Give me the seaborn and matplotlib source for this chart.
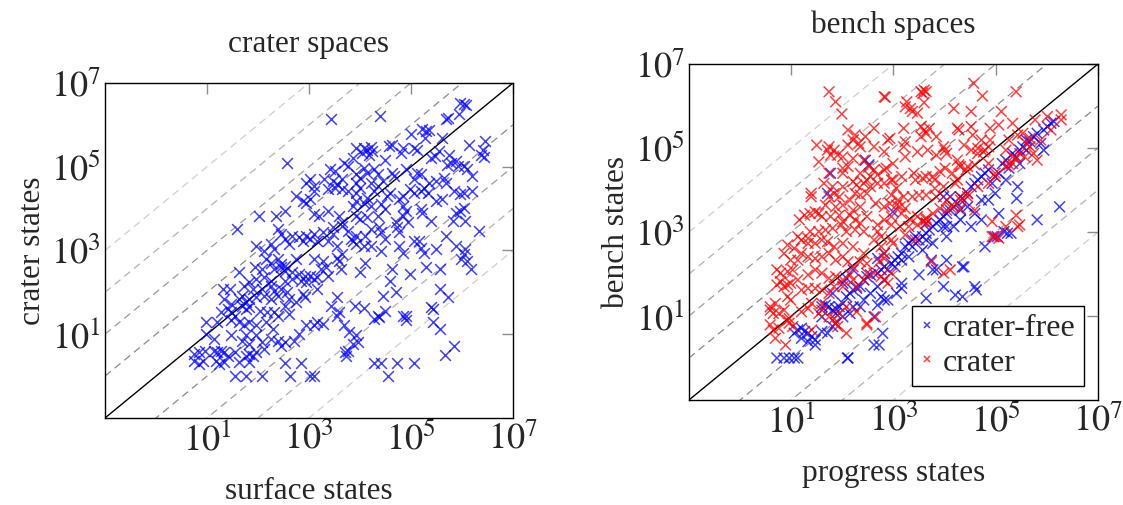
import numpy as np
import pandas as pd
import matplotlib
matplotlib.use("Agg")
import matplotlib.pyplot as plt
import seaborn as sns

sns.set_style("white")
plt.rcParams["font.family"] = ["Liberation Serif", "DejaVu Serif"]
plt.rcParams["mathtext.fontset"] = "stix"
FS = 22.5
TICK_FS = 26

# log10(surface states), log10(crater states) -- left panel
crater_space = [
    (3.44, 6.14), (4.40, 6.22), (5.96, 6.52), (6.03, 6.50), (6.08, 6.48), (5.68, 6.14), (5.73, 6.16), (5.94, 6.27),
    (5.01, 5.77), (5.22, 5.90), (5.29, 5.85), (5.36, 5.87), (5.27, 5.69), (5.61, 5.69), (6.13, 5.53), (6.46, 5.61),
    (4.07, 5.45), (4.14, 5.41), (4.21, 5.48), (4.24, 5.37), (4.17, 5.29), (3.93, 5.45), (4.03, 5.33), (4.56, 5.49),
    (4.63, 5.53), (4.84, 5.45), (4.80, 5.33), (5.05, 5.45), (5.12, 5.41), (5.40, 5.21), (5.47, 5.25), (5.54, 5.37),
    (5.75, 5.29),
    (6.41, 5.41), (6.38, 5.29), (6.43, 5.24), (4.49, 5.17), (3.86, 5.21), (3.69, 5.10), (3.76, 5.02), (3.41, 4.94),
    (3.51, 4.90), (2.57, 5.10), (5.89, 5.13), (5.78, 5.08), (6.03, 5.02), (6.10, 4.95), (5.71, 5.03), (5.92, 5.02),
    (4.91, 4.94), (5.12, 4.86), (5.19, 4.82), (4.63, 4.86), (4.66, 4.78), (4.35, 4.82), (4.28, 4.94), (4.07, 4.98),
    (4.14, 4.86), (3.93, 4.82), (4.00, 4.74), (3.02, 4.70), (3.09, 4.54), (3.30, 4.70), (3.48, 4.66), (3.55, 4.58),
    (3.65, 4.70), (6.20, 4.78), (5.50, 4.66), (5.64, 4.74), (5.69, 4.60), (5.36, 4.62), (5.05, 4.70), (4.45, 4.66),
    (4.21, 4.62), (3.93, 4.62),
    (5.26, 4.50), (5.19, 4.42), (5.33, 4.38), (4.98, 4.46), (5.05, 4.38), (4.84, 4.30), (4.59, 4.38), (4.52, 4.30),
    (4.28, 4.42), (4.35, 4.54), (4.00, 4.50), (3.93, 4.38), (3.76, 4.42), (3.65, 4.46), (3.51, 4.50), (3.37, 4.46),
    (3.09, 4.42), (2.95, 4.62), (5.85, 4.42), (6.03, 4.38), (5.96, 4.34), (6.20, 4.42), (5.50, 4.18), (5.61, 4.22),
    (2.74, 4.30), (2.88, 4.18), (2.95, 4.14), (3.02, 4.22), (4.14, 4.26), (4.07, 4.14), (4.21, 4.06), (3.93, 4.18),
    (3.86, 4.06), (4.42, 4.10), (4.84, 4.06), (4.91, 3.94), (6.03, 4.02), (5.96, 3.94), (5.89, 3.90), (5.19, 3.98),
    (5.22, 3.90), (4.77, 4.22),
    (2.01, 3.83), (2.36, 3.83), (2.53, 3.94), (3.09, 3.87), (3.20, 3.83), (3.37, 3.94), (3.58, 3.83), (3.65, 3.67),
    (3.93, 3.83), (4.00, 3.75), (4.14, 3.79), (4.35, 3.83), (4.49, 3.98), (4.84, 3.83), (4.94, 3.67), (4.70, 3.67),
    (4.73, 3.55), (4.77, 3.43), (5.40, 3.71), (5.82, 3.71), (6.06, 3.71), (5.68, 3.35), (6.34, 3.47), (1.59, 3.51),
    (2.39, 3.51), (2.46, 3.39), (2.67, 3.35), (2.81, 3.31), (2.95, 3.35), (3.09, 3.39), (3.27, 3.43), (3.48, 3.55),
    (3.48, 3.39), (3.65, 3.59), (3.76, 3.47), (3.83, 3.27), (3.93, 3.35), (4.10, 3.35), (4.21, 3.51), (4.38, 3.55),
    (4.42, 3.43), (4.49, 3.27), (5.05, 3.23),
    (1.97, 3.11), (2.11, 2.99), (2.25, 3.15), (2.32, 3.03), (2.53, 3.27), (2.60, 3.15), (2.88, 3.23), (3.02, 3.27),
    (3.16, 3.23), (3.37, 3.23), (3.55, 3.11), (3.65, 2.91), (3.86, 3.23), (3.93, 3.15), (4.07, 3.11), (4.21, 3.11),
    (4.42, 2.99), (4.77, 3.11), (4.84, 2.95), (5.19, 3.07), (5.26, 2.95), (5.50, 3.03), (5.89, 3.11), (6.06, 3.03),
    (6.03, 2.91), (5.15, 3.23), (2.15, 2.79), (2.25, 2.71), (2.39, 2.79), (2.46, 2.67), (2.53, 2.63), (2.74, 2.79),
    (3.09, 2.79), (3.27, 2.75), (3.55, 2.83), (3.58, 2.75), (4.00, 2.48), (4.10, 2.71), (5.99, 2.79), (6.10, 2.75),
    (5.29, 2.60), (5.57, 2.56),
    (1.62, 2.48), (1.94, 2.60), (2.08, 2.56), (2.32, 2.56), (2.46, 2.60), (2.53, 2.52), (2.67, 2.48), (2.81, 2.44),
    (2.92, 2.40), (3.02, 2.40), (3.23, 2.56), (3.34, 2.60), (3.16, 2.36), (3.37, 2.40), (3.62, 2.56), (1.97, 2.32),
    (2.11, 2.36), (2.25, 2.28), (2.53, 2.28), (2.67, 2.32), (2.85, 2.28), (2.95, 2.24), (3.09, 2.32), (3.16, 2.08),
    (4.63, 2.56), (4.59, 2.28), (4.98, 2.44), (6.17, 2.56), (1.73, 2.16), (1.83, 2.24), (1.90, 2.08), (2.08, 2.08),
    (2.25, 2.16), (2.32, 2.04), (2.46, 2.08), (2.57, 2.00), (2.88, 1.96), (4.45, 1.92), (4.70, 2.00), (5.57, 2.08),
    (5.73, 1.88), (1.31, 2.08), (1.45, 2.08),
    (1.34, 1.84), (1.48, 1.72), (1.62, 1.84), (1.69, 1.92), (1.76, 1.76), (1.83, 1.84), (1.97, 1.88), (2.11, 1.92),
    (2.25, 1.84), (2.39, 1.92), (2.60, 1.84), (2.74, 1.76), (2.92, 1.88), (3.55, 1.88), (1.27, 1.52), (1.41, 1.60),
    (1.48, 1.52), (1.55, 1.44), (1.69, 1.68), (1.76, 1.60), (1.83, 1.64), (2.04, 1.56), (2.18, 1.52), (2.32, 1.52),
    (2.39, 1.44), (2.53, 1.68), (2.60, 1.48), (3.44, 1.68), (3.58, 1.52), (3.90, 1.68), (4.07, 1.62), (4.49, 1.56),
    (4.35, 1.44), (4.91, 1.44), (5.40, 1.64), (5.43, 1.60),
    (0.99, 1.29), (1.20, 1.29), (1.48, 1.33), (1.62, 1.29), (1.73, 1.21), (1.83, 1.29), (1.97, 1.21), (2.15, 1.29),
    (2.29, 1.13), (1.76, 0.97), (1.97, 0.97), (2.08, 0.81), (2.25, 0.89), (2.39, 0.85), (2.53, 0.81), (2.81, 1.01),
    (2.95, 1.21), (3.09, 1.21), (3.16, 1.29), (3.27, 1.25), (3.55, 1.44), (3.69, 1.21), (3.79, 1.05), (3.93, 0.97),
    (4.28, 1.37), (4.38, 1.40), (4.91, 1.33), (4.84, 1.44), (5.43, 1.29), (5.57, 1.13), (0.99, 1.01), (1.13, 0.89),
    (1.48, 0.97), (1.69, 0.85), (1.83, 0.77), (2.11, 0.65), (2.46, 0.73), (2.71, 0.85), (3.86, 0.77), (3.97, 0.81),
    (0.75, 0.53), (0.85, 0.57), (0.96, 0.61), (1.13, 0.61), (1.20, 0.57), (1.27, 0.61), (1.34, 0.57), (1.41, 0.49),
    (1.55, 0.57), (1.76, 0.49), (1.83, 0.53), (1.90, 0.49), (1.97, 0.57), (0.75, 0.37), (0.85, 0.29), (0.92, 0.37),
    (1.17, 0.37), (1.24, 0.29), (1.34, 0.33), (1.62, 0.33), (1.83, 0.33), (2.53, 0.32), (2.85, 0.32), (3.71, 0.57),
    (3.76, 0.61), (3.72, 0.49), (4.28, 0.32), (4.42, 0.32), (4.73, 0.32), (5.05, 0.32), (5.66, 0.51), (5.84, 0.73),
    (1.55, 0.0), (1.76, 0.0), (2.08, 0.0), (2.62, 0.0), (3.01, 0.0), (3.10, 0.0), (4.54, 0.0),
]

# log10(progress states), log10(bench states) -- right panel, crater-free runs
bench_free = [
    (6.25, 3.60), (5.81, 3.29), (5.43, 4.08), (5.41, 3.80), (5.06, 3.44), (5.30, 2.97), (5.23, 2.97), (5.16, 3.01),
    (4.79, 2.65), (4.96, 2.89), (5.03, 2.89), (4.04, 2.33), (4.35, 2.17), (4.38, 2.17), (3.50, 1.98), (3.77, 2.10),
    (3.98, 1.70), (4.21, 1.50), (4.35, 1.46), (4.59, 1.70), (4.62, 1.62), (3.64, 1.42), (3.16, 1.78), (3.16, 1.66),
    (3.06, 1.54), (2.82, 1.38), (2.89, 1.38), (2.76, 1.46), (2.69, 1.26), (2.62, 0.98), (2.62, 0.31), (2.72, 0.31),
    (2.79, 0.59), (2.45, 4.71), (2.52, 4.60), (1.77, 4.40), (1.71, 3.92), (2.99, 3.48), (2.10, 0.0), (2.11, 0.0),
    (0.72, 0.0), (0.86, 0.0), (0.96, 0.0), (1.06, 0.0), (1.13, 0.0), (3.84, 2.10), (3.74, 2.33),
    (1.06, 0.59), (1.13, 0.67), (1.20, 0.71), (1.26, 0.63), (1.33, 0.59), (1.40, 0.51), (1.47, 0.43), (1.20, 0.47),
    (1.33, 0.39), (1.47, 0.31), (1.60, 0.63), (1.71, 0.59), (1.81, 0.75), (1.87, 0.83), (1.60, 1.22), (1.67, 1.26),
    (1.74, 1.22), (1.81, 1.14), (1.87, 1.18), (1.94, 1.22), (2.01, 1.30), (2.08, 1.46), (2.15, 1.54), (2.21, 1.62),
    (2.28, 1.66), (2.35, 1.70), (2.42, 1.86), (2.48, 1.94), (2.55, 1.98), (2.69, 2.02), (2.76, 2.10), (2.82, 2.17),
    (2.89, 2.10), (2.96, 2.25), (3.03, 2.33), (3.09, 2.41), (3.16, 2.49), (3.23, 2.65), (3.30, 2.73), (3.37, 2.81),
    (3.43, 2.89), (3.50, 2.81), (3.57, 2.89), (3.64, 2.97), (3.70, 3.05), (3.77, 3.13), (3.84, 3.21), (3.91, 3.29),
    (3.98, 3.37), (4.04, 3.44), (4.11, 3.52), (4.18, 3.60), (4.25, 3.68), (4.31, 3.84), (4.38, 3.76), (4.45, 3.92),
    (4.52, 4.08), (4.59, 4.16), (4.65, 4.24), (4.72, 4.32), (4.79, 4.40), (4.86, 4.48), (4.93, 4.16), (4.99, 4.32),
    (5.06, 4.40), (5.13, 4.63), (5.20, 4.71), (5.26, 4.52), (5.33, 4.87), (5.40, 4.79), (5.47, 4.95), (5.53, 5.03),
    (5.60, 5.19), (5.67, 5.15), (5.74, 5.27), (5.81, 5.35), (5.94, 5.43), (6.01, 5.51), (6.08, 5.59), (6.14, 5.63),
    (5.94, 4.95), (5.88, 5.11), (5.60, 4.95), (5.47, 4.63), (5.20, 4.24), (4.99, 3.92), (4.86, 3.76), (4.72, 3.76),
    (4.45, 3.60), (4.31, 3.52), (4.04, 3.13), (3.98, 3.13), (3.64, 2.81), (3.37, 2.65), (3.16, 2.33), (3.03, 2.17),
    (2.82, 1.86), (2.69, 1.70), (2.55, 1.54), (2.42, 1.38), (2.35, 1.22), (2.21, 1.22), (2.15, 1.06), (2.01, 0.98),
    (1.87, 1.06), (1.60, 0.98), (2.21, 2.10), (2.08, 1.90), (2.01, 1.78), (1.81, 1.54), (2.82, 2.49), (2.69, 2.37),
    (3.30, 2.41), (3.57, 2.57), (3.77, 2.73), (4.04, 2.89), (4.18, 3.13), (4.31, 3.29), (4.59, 3.44), (4.72, 3.29),
    (4.52, 3.13), (4.11, 3.84), (3.98, 3.84), (3.64, 3.21),
]

# log10(progress states), log10(bench states) -- right panel, crater runs
bench_crater = [
    (1.74, 6.34), (1.87, 6.10), (1.99, 5.81), (2.82, 6.22), (2.84, 6.21), (3.54, 6.34), (3.60, 6.38), (3.57, 6.30),
    (3.64, 6.34), (4.57, 6.54), (4.74, 6.24), (5.40, 6.34), (3.26, 6.10), (3.23, 5.98), (3.33, 5.94), (3.37, 5.87),
    (3.47, 5.83), (3.60, 6.08), (4.18, 5.94), (4.52, 5.87), (5.11, 5.87), (6.01, 5.75), (6.28, 5.79), (5.77, 5.67),
    (2.11, 5.43), (2.62, 5.47), (3.20, 5.47), (3.54, 5.51), (3.60, 5.43), (3.64, 5.35), (3.54, 5.27), (3.70, 5.47),
    (4.25, 5.47), (4.28, 5.43), (4.52, 5.51), (4.89, 5.47), (5.06, 5.55), (5.33, 5.59), (5.43, 5.31), (5.53, 5.35),
    (5.67, 5.23), (5.60, 5.11), (2.25, 5.31), (2.45, 5.27), (2.21, 5.19), (2.32, 5.11), (2.89, 5.19), (2.93, 5.23),
    (3.23, 5.15), (3.84, 5.27), (4.55, 5.31), (4.72, 5.19), (4.89, 5.19), (5.26, 5.19), (1.50, 5.07), (1.74, 5.03),
    (1.84, 4.95), (2.11, 5.07), (2.35, 5.03), (2.62, 5.03), (2.82, 4.91), (3.20, 5.03), (3.98, 5.03), (4.01, 4.95),
    (4.38, 5.07), (4.52, 4.95), (4.65, 4.99), (4.79, 4.95), (4.86, 5.03), (5.20, 4.95), (5.74, 4.87),
    (1.54, 4.67), (1.71, 4.95), (1.77, 4.83), (1.91, 4.83), (2.01, 4.79), (2.11, 4.56), (2.01, 4.52), (2.21, 4.75),
    (2.42, 4.71), (2.52, 4.56), (2.62, 4.48), (2.86, 4.52), (2.99, 4.63), (3.23, 4.79), (3.47, 4.91), (3.67, 4.95),
    (3.84, 4.83), (4.04, 4.87), (4.25, 4.71), (4.28, 4.60), (4.31, 4.56), (4.42, 4.48), (4.45, 4.56), (4.59, 4.60),
    (4.65, 4.87), (4.76, 4.91), (5.40, 4.75), (5.57, 4.79), (5.81, 4.71), (1.74, 4.40), (2.01, 4.40), (2.35, 4.40),
    (2.55, 4.32), (2.69, 4.36), (2.82, 4.48), (2.96, 4.24), (3.16, 4.32), (3.40, 4.40), (3.64, 4.32), (3.77, 4.32),
    (3.91, 4.44), (4.01, 4.52), (4.15, 4.40), (4.25, 4.24), (4.86, 4.63),
    (1.64, 4.16), (1.81, 4.08), (2.01, 4.08), (2.21, 4.20), (2.28, 4.12), (2.42, 4.16), (2.48, 4.24), (2.55, 4.08),
    (2.69, 4.16), (2.82, 4.16), (2.99, 4.24), (3.06, 4.04), (3.43, 4.24), (3.57, 4.28), (3.81, 4.24), (3.98, 4.08),
    (4.21, 4.16), (1.39, 3.92), (1.39, 3.84), (1.74, 3.84), (1.84, 3.92), (1.94, 3.84), (2.15, 3.76), (2.25, 3.92),
    (2.35, 3.88), (2.48, 3.92), (2.65, 3.68), (2.96, 3.88), (3.09, 3.76), (3.20, 3.84), (3.37, 3.84), (3.50, 3.88),
    (3.64, 3.88), (3.84, 3.84), (4.04, 3.76), (4.31, 3.84), (4.45, 3.92), (3.81, 4.04), (1.67, 3.64), (1.54, 3.44),
    (1.87, 3.60), (2.01, 3.64), (2.21, 3.52), (2.35, 3.60), (2.82, 3.60), (2.93, 3.68), (3.06, 3.64), (3.13, 3.60),
    (3.23, 3.56),
    (1.16, 3.29), (1.26, 3.40), (1.37, 3.44), (1.47, 3.48), (1.60, 3.37), (1.77, 3.37), (1.94, 3.40), (2.01, 3.25),
    (2.15, 3.40), (2.25, 3.29), (2.35, 3.21), (2.48, 3.37), (2.69, 3.17), (2.82, 3.29), (2.96, 3.37), (3.16, 3.44),
    (3.33, 3.29), (3.47, 3.37), (3.57, 3.25), (3.64, 3.33), (4.04, 3.52), (4.31, 3.56), (4.59, 3.52), (4.18, 3.60),
    (1.37, 3.01), (1.54, 3.01), (1.67, 3.05), (1.81, 3.09), (1.98, 3.17), (2.08, 3.01), (2.25, 3.05), (2.42, 3.01),
    (2.69, 3.01), (2.76, 2.89), (2.96, 3.17), (3.13, 3.13), (3.30, 3.13), (3.47, 3.17), (3.64, 3.21), (4.93, 3.25),
    (5.40, 3.40), (5.43, 3.13), (4.93, 2.89), (4.99, 2.89), (1.13, 2.89), (1.33, 2.85),
    (0.93, 2.69), (1.06, 2.61), (1.20, 2.81), (1.33, 2.73), (1.47, 2.73), (1.60, 2.81), (1.71, 2.77), (1.84, 2.65),
    (2.01, 2.73), (2.21, 2.65), (2.42, 2.49), (2.62, 2.81), (2.76, 2.65), (2.82, 2.49), (2.96, 2.81), (2.99, 2.73),
    (3.23, 2.93), (3.43, 2.81), (5.06, 2.85), (0.86, 2.49), (0.99, 2.33), (1.13, 2.33), (1.20, 2.49), (1.33, 2.41),
    (1.47, 2.37), (1.60, 2.41), (1.74, 2.49), (1.87, 2.33), (2.01, 2.41), (2.11, 2.29), (2.21, 2.17), (2.35, 2.29),
    (2.48, 2.25), (2.72, 2.29), (2.82, 2.37), (3.74, 2.29), (4.11, 2.10),
    (0.72, 2.10), (0.79, 2.02), (0.93, 2.06), (1.03, 2.10), (0.72, 1.74), (0.79, 1.82), (0.86, 1.70), (0.93, 1.74),
    (0.99, 1.78), (1.13, 1.86), (1.33, 1.98), (1.47, 2.10), (1.60, 2.02), (1.74, 1.90), (1.87, 1.94), (2.01, 1.86),
    (2.15, 1.98), (2.21, 1.86), (1.20, 1.62), (1.33, 1.66), (1.47, 1.66), (1.60, 1.62), (1.74, 1.54), (1.84, 1.70),
    (2.01, 1.70), (2.28, 1.70), (2.42, 1.86), (2.48, 2.02), (2.62, 2.02), (2.76, 1.94), (2.82, 1.86), (2.89, 1.78),
    (2.96, 2.02), (0.99, 1.38), (0.93, 1.46), (1.60, 1.30),
    (0.59, 1.22), (0.59, 1.14), (0.69, 1.30), (0.65, 1.06), (0.76, 1.06), (0.86, 1.14), (0.93, 0.90), (1.20, 1.10),
    (1.33, 1.18), (1.40, 1.30), (1.54, 1.06), (1.60, 1.14), (1.74, 0.98), (1.84, 0.94), (1.94, 1.06), (2.08, 1.22),
    (2.28, 1.10), (2.48, 0.83), (2.65, 0.98), (0.59, 0.79), (0.65, 0.67), (0.76, 0.71), (0.96, 0.94), (0.96, 0.83),
    (1.03, 0.75), (1.87, 0.83), (1.91, 0.75), (2.08, 0.59), (2.48, 0.79), (0.89, 0.31), (0.69, 0.47), (1.40, 0.67),
    (3.64, 3.29), (3.77, 3.44), (3.91, 3.56), (4.11, 3.60), (4.31, 3.76), (4.45, 3.84), (4.65, 4.08), (4.86, 4.16),
    (4.99, 4.40), (5.20, 4.56), (5.33, 4.79), (5.47, 4.87), (5.67, 5.03), (5.88, 5.19), (6.08, 5.43), (6.28, 5.67),
    (4.99, 4.32), (5.26, 4.60), (5.33, 4.63), (5.20, 3.13), (3.98, 2.02), (5.47, 3.17),
]

tick_exps = [1, 3, 5, 7]
guide_offsets = [1, 2, 3, 4]
guide_greys = ["#8a8a8a", "#9c9c9c", "#b3b3b3", "#d0d0d0"]
lo, hi = 1e-1, 1e7


def log_frame(points, xcol, ycol):
    return 10.0 ** pd.DataFrame(points, columns=[xcol, ycol])


def decorate(ax, title, xlabel, ylabel):
    edge = np.array([lo, hi])
    ax.plot(edge, edge, color="black", lw=1.0, zorder=1)
    for k, grey in zip(guide_offsets, guide_greys):
        for s in (k, -k):
            ax.plot(edge, edge * 10.0 ** s, color=grey, lw=0.9, dashes=(6, 4), zorder=0)
    ax.set_xscale("log")
    ax.set_yscale("log")
    ax.set_xlim(lo, hi)
    ax.set_ylim(lo, hi)
    ticks = [10.0 ** e for e in tick_exps]
    labels = [f"$10^{{{e}}}$" for e in tick_exps]
    ax.set_xticks(ticks, labels)
    ax.set_yticks(ticks, labels)
    ax.minorticks_off()
    ax.tick_params(which="major", direction="in", length=8, width=1, color="0.55",
                   top=True, right=True, labelsize=TICK_FS, pad=3)
    for sp in ax.spines.values():
        sp.set_color("black")
        sp.set_linewidth(1.0)
    ax.set_title(title, fontsize=FS, pad=22)
    ax.set_xlabel(xlabel, fontsize=FS, labelpad=14)
    ax.set_ylabel(ylabel, fontsize=FS, labelpad=3)


fig = plt.figure(figsize=(11.23, 5.05), dpi=100)
ax1 = fig.add_axes([0.0935, 0.1723, 0.3633, 0.6634])
ax2 = fig.add_axes([0.6135, 0.2079, 0.3642, 0.6653])

left = log_frame(crater_space, "surface", "crater")
sns.scatterplot(data=left, x="surface", y="crater", marker="x", color="blue",
                s=60, linewidth=1.1, alpha=0.75, ax=ax1, zorder=3)
decorate(ax1, "crater spaces", "surface states", "crater states")

free = log_frame(bench_free, "progress", "bench")
free["kind"] = "crater-free"
crat = log_frame(bench_crater, "progress", "bench")
crat["kind"] = "crater"
right = pd.concat([free, crat], ignore_index=True)
sns.scatterplot(data=right, x="progress", y="bench", hue="kind",
                hue_order=["crater-free", "crater"],
                palette={"crater-free": "blue", "crater": "red"},
                marker="x", s=60, linewidth=1.1, alpha=0.75, ax=ax2, zorder=3)
decorate(ax2, "bench spaces", "progress states", "bench states")

handles, labels = ax2.get_legend_handles_labels()
leg = ax2.legend(handles, labels, loc="lower right", fontsize=23, frameon=True,
                 fancybox=False, edgecolor="black", framealpha=1,
                 handlelength=0.4, handletextpad=0.3, borderpad=0.25,
                 labelspacing=0.15, borderaxespad=0.45, markerscale=0.55)
leg.get_frame().set_linewidth(1.0)

fig.savefig("out.png", dpi=100)
